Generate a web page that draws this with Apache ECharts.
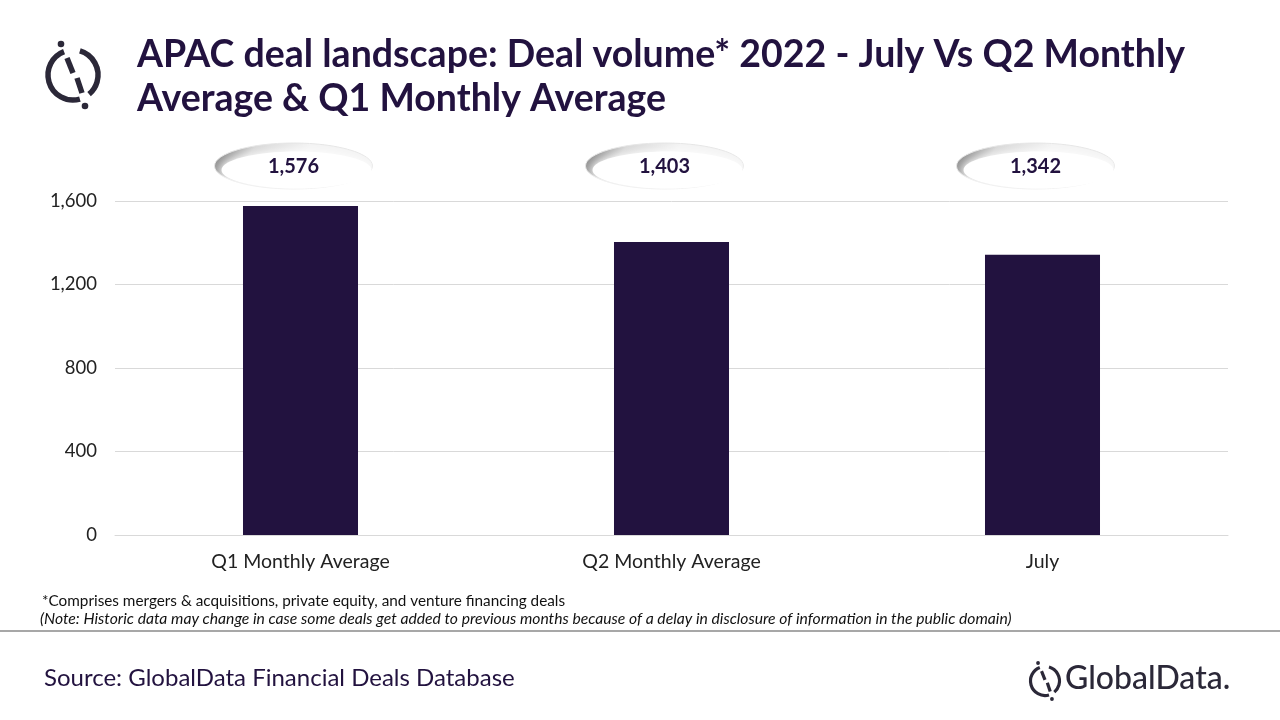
<!DOCTYPE html>
<html><head><meta charset="utf-8">
<script src="https://cdn.jsdelivr.net/npm/echarts@6/dist/echarts.min.js"></script>
<style>html,body{margin:0;padding:0;background:#fff}#c{width:1280px;height:720px}</style>
</head><body><div id="c"></div>
<script>
var categories = ['Q1 Monthly Average', 'Q2 Monthly Average', 'July'];
var values = [1576, 1403, 1342];
var yTicks = [0, 400, 800, 1200, 1600];

var titleText = 'APAC deal landscape: Deal volume* 2022 - July Vs Q2 Monthly\nAverage & Q1 Monthly Average';
var noteText = '*Comprises mergers & acquisitions, private equity, and venture financing deals';
var note2Text = '(Note: Historic data may change in case some deals get added to previous months because of a delay in disclosure of information in the public domain)';
var sourceText = 'Source: GlobalData Financial Deals Database';

var DARK = '#22123f';
var FONT = 'Lato, "Open Sans", sans-serif';

var chart = echarts.init(document.getElementById('c'));
var deg = Math.PI / 180;
function logo(cx, cy, s) {
  var lw = 5.5 * s;
  var st = {stroke: '#2b2838', lineWidth: lw, fill: null, lineCap: 'butt'};
  return [
    {type: 'arc', shape: {cx: cx, cy: cy, r: 25 * s, startAngle: -74 * deg, endAngle: 50 * deg}, style: st},
    {type: 'arc', shape: {cx: cx, cy: cy, r: 25 * s, startAngle: 74 * deg, endAngle: 249 * deg}, style: st},
    {type: 'line', shape: {x1: cx - 6 * s, y1: cy - 17 * s, x2: cx + 0 * s, y2: cy - 2 * s}, style: st},
    {type: 'line', shape: {x1: cx + 4 * s, y1: cy + 3 * s, x2: cx + 9 * s, y2: cy + 18 * s}, style: st},
    {type: 'circle', shape: {cx: cx - 12 * s, cy: cy - 31 * s, r: 3.3 * s}, style: {fill: '#2b2838'}},
    {type: 'circle', shape: {cx: cx + 12 * s, cy: cy + 31 * s, r: 3.3 * s}, style: {fill: '#2b2838'}}
  ];
}

var graphics = [].concat(
  logo(73, 75, 1),
  logo(1045, 681, 0.58),
  [
    {type: 'text', left: 137, top: 33, style: {text: titleText, font: 'bold 37.5px ' + FONT, fill: DARK, lineHeight: 44}},
    {type: 'text', left: 42, top: 594, style: {text: noteText, font: '15.3px ' + FONT, fill: '#111'}},
    {type: 'text', left: 40, top: 611, style: {text: note2Text, font: 'italic 15.7px ' + FONT, fill: '#111'}},
    {type: 'line', shape: {x1: 0, y1: 631, x2: 1280, y2: 631}, style: {stroke: '#8a8a8a', lineWidth: 1.5}},
    {type: 'text', left: 44, top: 666, style: {text: sourceText, font: '24px ' + FONT, fill: DARK}},
    {type: 'text', left: 1065, top: 663, style: {text: 'GlobalData.', font: '500 32px ' + FONT, fill: '#2b2838'}}
  ]
);

chart.setOption({
  animation: false,
  grid: {left: 115, right: 52, top: 201, bottom: 185, containLabel: false},
  xAxis: {
    type: 'category', data: categories,
    axisLine: {lineStyle: {color: '#d9d9d9'}}, axisTick: {show: false},
    axisLabel: {color: '#222', fontSize: 19.5, fontFamily: FONT, margin: 17}
  },
  yAxis: {
    type: 'value', min: 0, max: 1600, interval: 400,
    axisLine: {show: false}, axisTick: {show: false},
    splitLine: {lineStyle: {color: '#d9d9d9'}},
    axisLabel: {color: '#222', fontSize: 18.5, fontFamily: FONT, margin: 18,
      formatter: function (v) { return v.toLocaleString('en-US'); }}
  },
  series: [
    {type: 'bar', data: values, barWidth: '31%', itemStyle: {color: DARK}},
    {
      type: 'custom', data: values.map(function (v, i) { return [i, v]; }),
      clip: false, z: 5,
      renderItem: function (params, api) {
        var p = api.coord([api.value(0), api.value(1)]);
        var cx = p[0] - 7, cy = params.coordSys.y - 35;
        var txt = api.value(1).toLocaleString('en-US');
        return {type: 'group', children: [
          {type: 'ellipse', shape: {cx: cx, cy: cy, rx: 79, ry: 23},
            style: {fill: new echarts.graphic.LinearGradient(0, 0, 0.4, 1, [
              {offset: 0, color: '#6a6a6a'}, {offset: 0.45, color: '#d8d8d8'}, {offset: 1, color: '#f4f4f4'}]),
              stroke: '#e6e6e6', lineWidth: 1}},
          {type: 'ellipse', shape: {cx: cx + 3, cy: cy + 4, rx: 75, ry: 18.5},
            style: {fill: '#fff', shadowBlur: 8, shadowColor: '#ffffff'}},
          {type: 'text', style: {text: txt, x: cx, y: cy + 1, align: 'center', verticalAlign: 'middle',
            font: 'bold 20px ' + FONT, fill: DARK}}
        ]};
      }
    }
  ],
  graphic: graphics
});
</script></body></html>
